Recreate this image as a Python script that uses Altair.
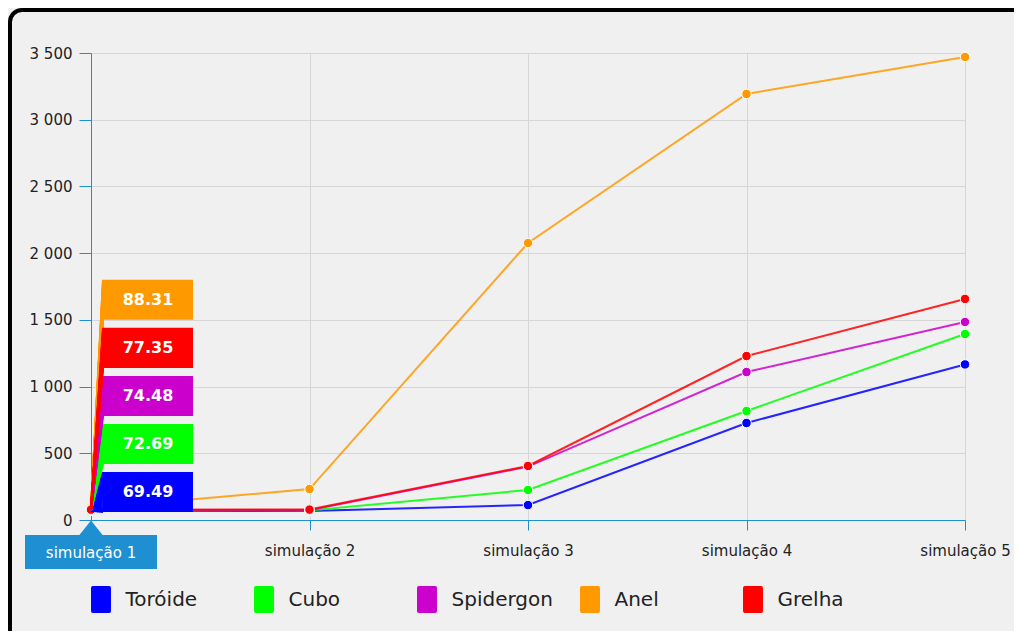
import altair as alt
import pandas as pd

# ---- data ----
simulacoes = ["simulação 1", "simulação 2", "simulação 3", "simulação 4", "simulação 5"]
series = ["Toróide", "Cubo", "Spidergon", "Anel", "Grelha"]
cores = ["#0000ff", "#00ff00", "#cc00cc", "#ff9900", "#ff0000"]

toroide = [69.49, 68, 112, 727, 1166]
cubo = [72.69, 72, 225, 817, 1394]
spidergon = [74.48, 74, 400, 1109, 1484]
anel = [88.31, 232, 2076, 3193, 3470]
grelha = [77.35, 78, 405, 1229, 1657]

y_ticks = [0, 500, 1000, 1500, 2000, 2500, 3000, 3500]

valores = [toroide, cubo, spidergon, anel, grelha]
rows = []
for s, vals in zip(series, valores):
    for sim, v in zip(simulacoes, vals):
        rows.append({"serie": s, "sim": sim, "valor": v})
df = pd.DataFrame(rows)

# shared tooltip at the first simulation
sel = simulacoes[0]
tip = pd.DataFrame({"serie": series, "sim": sel, "valor": [v[0] for v in valores]})
tip["k"] = tip["valor"].rank(method="first").astype(int) - 1
BOX_BASE, BOX_STEP, BOX_H = 60, 360, 300  # tooltip layout, in y units
tip["y0"] = BOX_BASE + BOX_STEP * tip["k"]
tip["y1"] = tip["y0"] + BOX_H
tip["ym"] = tip["y0"] + BOX_H / 2
tip["label"] = tip["valor"].map(lambda v: f"{v:.2f}")
fan = tip.merge(pd.DataFrame({"f": [i / 20 for i in range(21)]}), how="cross")
fan["ye"] = fan["y0"] + fan["f"] * BOX_H

lab = pd.DataFrame({"sim": [sel]})
one = pd.DataFrame({"a": [0]})

# ---- encodings ----
AXIS_BLUE = "#1e8fd0"
FONT = "DejaVu Sans"
color_scale = alt.Scale(domain=series, range=cores)
x_scale = alt.Scale(type="point", padding=0, domain=simulacoes)
y_scale = alt.Scale(domain=[0, 3500], nice=False)

x_axis = alt.Axis(title=None, labelAngle=0, grid=True, tickSize=10, labelPadding=13,
                  domainColor=AXIS_BLUE, tickColor=AXIS_BLUE, labelFont=FONT,
                  labelFontSize=15, labelColor="#222",
                  labelExpr="datum.value == '" + sel + "' ? '' : datum.label")
y_axis = alt.Axis(title=None, values=y_ticks, grid=True, tickSize=12, labelPadding=7,
                  domainColor=AXIS_BLUE, tickColor=AXIS_BLUE, labelFont=FONT,
                  labelFontSize=15, labelColor="#222",
                  labelExpr="replace(format(datum.value, ','), ',', ' ')")

X = alt.X("sim:N", scale=x_scale, axis=x_axis, sort=simulacoes)
Y = alt.Y("valor:Q", scale=y_scale, axis=y_axis)

legend_sym = ("M-0.6,-1 H0.6 Q0.74,-1 0.74,-0.86 V0.86 Q0.74,1 0.6,1 "
              "H-0.6 Q-0.74,1 -0.74,0.86 V-0.86 Q-0.74,-1 -0.6,-1 Z")
legend = alt.Legend(orient="none", legendX=-3.5, legendY=533, direction="horizontal",
                    columns=5, title=None, symbolType=legend_sym, symbolSize=729,
                    symbolStrokeWidth=0, symbolOpacity=1, labelFontSize=20,
                    labelFont=FONT, labelColor="#222", labelOffset=11,
                    columnPadding=23, gridAlign="all", padding=0)
C = alt.Color("serie:N", scale=color_scale, legend=legend, sort=series)

frame = alt.Chart(one).mark_rect(fillOpacity=0, stroke="black", strokeWidth=4,
                                 cornerRadius=12).encode(
    x=alt.value(-81), x2=alt.value(980), y=alt.value(-43), y2=alt.value(620))

lines = alt.Chart(df).mark_line(strokeWidth=2, opacity=0.85).encode(x=X, y=Y, color=C)

points = alt.Chart(df).mark_circle(size=90, opacity=1, stroke="white", strokeWidth=1).encode(
    x=X, y=Y, color=C)

wedges = alt.Chart(fan).mark_rule(strokeWidth=2, x2Offset=12).encode(
    x=X, x2=alt.X2("sim"), y=Y, y2=alt.Y2("ye"), color=C)

boxes = alt.Chart(tip).mark_rect(xOffset=12, x2Offset=102).encode(
    x=X, x2=alt.X2("sim"), y=alt.Y("y0:Q", scale=y_scale, axis=y_axis), y2=alt.Y2("y1"),
    color=C)

box_text = alt.Chart(tip).mark_text(dx=57, font=FONT, fontWeight="bold", fontSize=16,
                                    color="white", align="center", baseline="middle").encode(
    x=X, y=alt.Y("ym:Q", scale=y_scale, axis=y_axis), text="label:N")

lab_box = alt.Chart(lab).mark_rect(xOffset=-66, x2Offset=66, color=AXIS_BLUE).encode(
    x=X, x2=alt.X2("sim"), y=alt.value(482), y2=alt.value(516))

lab_ptr = alt.Chart(lab).mark_point(shape="M0,-1 L1.6,1 L-1.6,1 Z", size=225, filled=True,
                                    opacity=1, color=AXIS_BLUE).encode(
    x=X, y=alt.value(475))

lab_text = alt.Chart(lab).mark_text(font=FONT, fontSize=15, color="white",
                                    align="center", baseline="middle").encode(
    x=X, y=alt.value(499.5), text="sim:N")

chart = alt.layer(frame, lines, points, wedges, boxes, box_text, lab_box, lab_ptr, lab_text).properties(
    width=874, height=467,
    padding={"left": 83, "top": 45, "right": 49, "bottom": 111},
    autosize=alt.AutoSizeParams(type="none"),
    background="#f0f0f0",
).configure_view(stroke=None).configure_axis(gridColor="#d6d6d6", gridWidth=1)

chart.save("out.html", embed_options={"renderer": "svg", "actions": False})
